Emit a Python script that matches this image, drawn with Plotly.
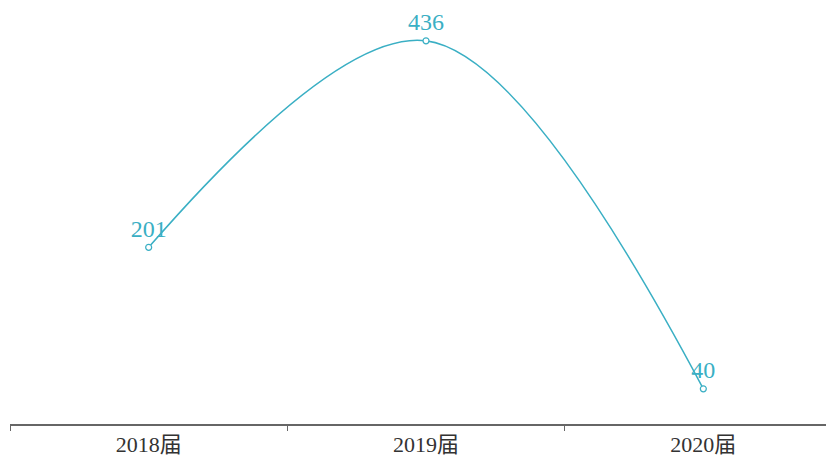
import plotly.graph_objects as go

categories = ["2018届", "2019届", "2020届"]
values = [201, 436, 40]
labels = ["201", "436", "40"]

color = "#3aafc4"
fig = go.Figure()
fig.add_trace(go.Scatter(
    x=categories, y=values, mode="lines+markers+text",
    line=dict(color=color, width=1.5, shape="spline", smoothing=1.0),
    marker=dict(symbol="circle", size=6, color="white", line=dict(color=color, width=1.2)),
    text=labels, textposition="top center",
    textfont=dict(family="Liberation Serif, Times New Roman, serif", size=24, color=color),
    cliponaxis=False, hoverinfo="skip",
))
fig.update_layout(
    width=834, height=459,
    margin=dict(l=2, r=0, t=12, b=43),
    paper_bgcolor="white", plot_bgcolor="white",
    showlegend=False,
    xaxis=dict(type="category", range=[-0.5, 2.5], showgrid=False, zeroline=False,
               showline=True, linecolor="#666", linewidth=1.5,
               ticks="outside", tickson="boundaries", ticklen=5, tickcolor="#666", tickwidth=1,
               tickfont=dict(family="Liberation Serif, Noto Sans CJK SC, serif", size=22, color="#333")),
    yaxis=dict(range=[0, 459.7], visible=False, showgrid=False, zeroline=False),
)
fig.write_html("out.html")
